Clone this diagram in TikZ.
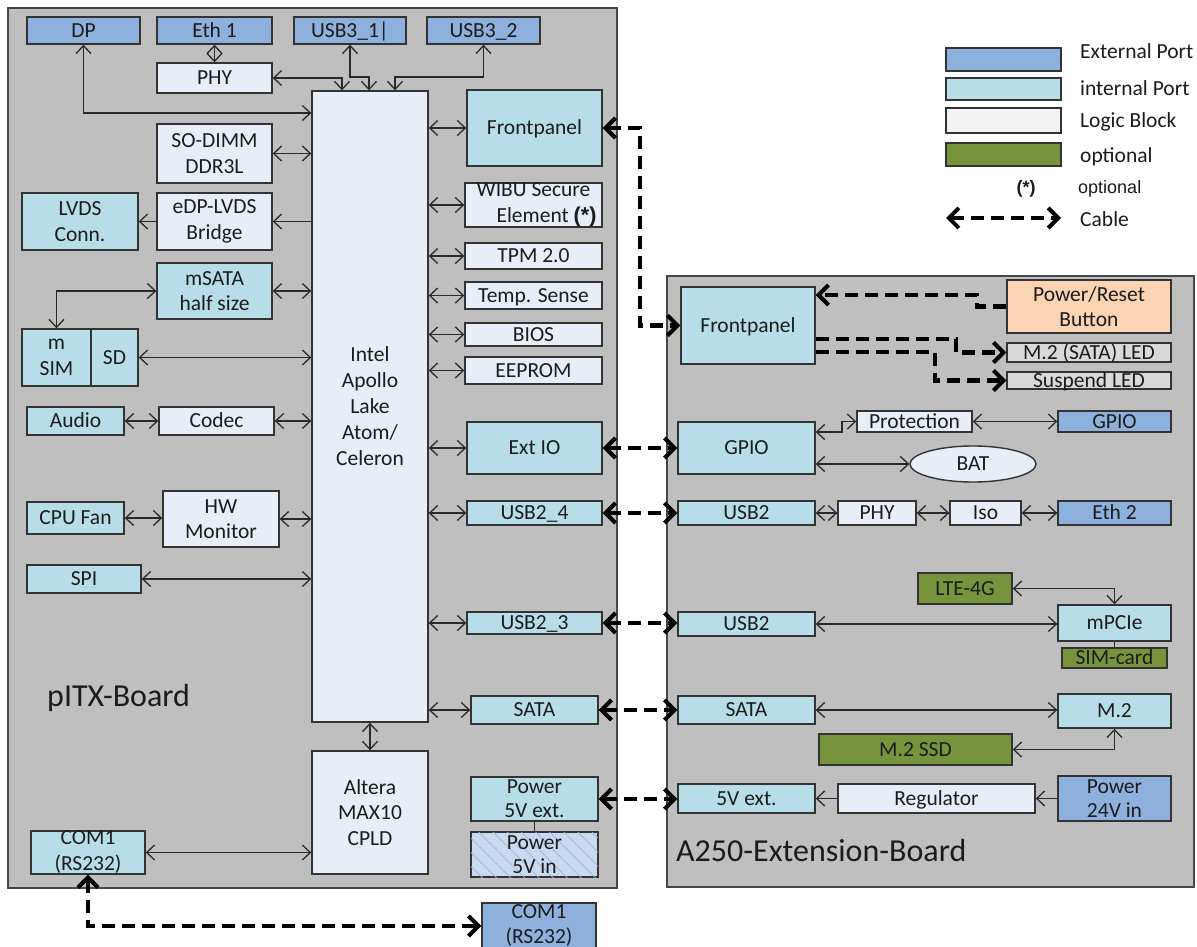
\documentclass[tikz,border=0pt]{standalone}
\usepackage{fontspec}
\setmainfont{Carlito}
\newfontfamily\arialfont{Liberation Sans}
\usetikzlibrary{arrows.meta,patterns.meta,shapes.geometric}

\definecolor{extc}{HTML}{8EB0DC}
\definecolor{intc}{HTML}{B7DEE8}
\definecolor{logc}{HTML}{E7EEF7}
\definecolor{leglogc}{HTML}{F2F2F2}
\definecolor{optc}{HTML}{77933C}
\definecolor{peachc}{HTML}{FBD4B4}
\definecolor{ledc}{HTML}{D9D9D9}
\definecolor{boardc}{HTML}{BFBFBF}
\definecolor{bordc}{HTML}{333333}
\definecolor{linec}{HTML}{2A2A2A}
\definecolor{txt}{HTML}{1C1C1C}
\definecolor{hatchbg}{HTML}{C9DAF0}
\definecolor{hatchc}{HTML}{9DB5D6}

\tikzset{
  tn/.tip={Straight Barb[length=8pt,width=15pt]},
  tc/.tip={Straight Barb[length=10pt,width=20pt,line width=4pt]},
}

\begin{document}
\begin{tikzpicture}[x=1pt,y=-1pt,
  every node/.style={font=\fontsize{21.5}{25.5}\selectfont, text=txt},
  sz/.style 2 args={minimum width=#1pt, minimum height=#2pt},
  blk/.style={draw=bordc, line width=1.4pt, inner sep=0pt, align=center},
  sl/.style={text height=14.5pt, text depth=1pt},
  ext/.style={blk, fill=extc},
  intp/.style={blk, fill=intc},
  logic/.style={blk, fill=logc},
  opt/.style={blk, fill=optc},
  board/.style={draw=bordc!90, line width=1.3pt, fill=boardc, inner sep=0pt},
  thinline/.style={draw=linec, line width=1.3pt},
  bi/.style={thinline, tn-tn},
  one/.style={thinline, -tn},
  cable/.style={draw=black, line width=4.5pt, dash pattern=on 13pt off 7pt, tc-tc},
  lbl/.style={anchor=west, inner sep=0pt},
]

% page and the two boards
\fill[white] (0,0) rectangle (1197,947);
\useasboundingbox (0,0) rectangle (1197,947);
\node[board, sz={609}{880}] (pitx) at (312.5,448) {};
\node[board, sz={527}{611}] (a250) at (930.5,581.5) {};

% ---------- pITX board ----------
\node[ext, sl, sz={113}{27}] (dp) at (83.5,30.5) {DP};
\node[ext, sl, sz={115}{27}] (eth1) at (214.5,30.5) {Eth 1};
\node[ext, sl, sz={112}{27}] (usb31) at (350,30.5) {USB3\_1|};
\node[ext, sl, sz={113}{27}] (usb32) at (483.5,30.5) {USB3\_2};
\node[logic, sl, sz={115}{30}] (phy) at (214.5,78) {PHY};
\node[logic, sz={116}{631}, font=\fontsize{21.5}{26}\selectfont] (cpu) at (370,406.5) {Intel\\Apollo\\Lake\\Atom/\\Celeron};
\node[intp, sl, sz={135}{76}] (fp) at (534.5,128) {Frontpanel};
\node[logic, sz={115}{59}] (sodimm) at (214.5,153.5) {SO-DIMM\\DDR3L};
\node[intp, sz={116}{57}] (lvds) at (80,221.5) {LVDS\\Conn.};
\node[logic, sz={115}{57}] (edp) at (214.5,221.5) {eDP-LVDS\\Bridge};
\node[logic, sz={137}{44}] (wibu) at (533.5,205) {WIBU Secure\\\hspace*{26pt}Element {\arialfont\bfseries (*)}};
\node[logic, sl, sz={137}{26}] (tpm) at (533.5,256) {TPM 2.0};
\node[logic, sl, sz={137}{27}] (temp) at (533.5,295.5) {Temp. Sense};
\node[intp, sz={115}{56}] (msata) at (214.5,291) {mSATA\\half size};
\node[intp, sz={69}{57}, font=\fontsize{21.5}{26}\selectfont] (msim) at (56.5,357.5) {m\\SIM};
\node[intp, sl, sz={47}{57}] (sd) at (114.5,357.5) {SD};
\node[logic, sl, sz={137}{23}] (bios) at (533.5,334.5) {BIOS};
\node[logic, sl, sz={137}{27}] (eeprom) at (533.5,370.5) {EEPROM};
\node[intp, sl, sz={97}{28}] (audio) at (75.5,421) {Audio};
\node[logic, sl, sz={115}{28}] (codec) at (216.5,421) {Codec};
\node[intp, sl, sz={135}{52}] (extio) at (534.5,448) {Ext IO};
\node[intp, sl, sz={97}{32}] (cpufan) at (75.5,518) {CPU Fan};
\node[logic, sz={116}{56}] (hwmon) at (221,519) {HW\\Monitor};
\node[intp, sl, sz={135}{24}] (usb24) at (534.5,513) {USB2\_4};
\node[intp, sl, sz={114}{28}] (spi) at (84,579) {SPI};
\node[intp, sl, sz={135}{22}] (usb23) at (534.5,623) {USB2\_3};
\node[intp, sl, sz={127}{28}] (sata) at (534.5,710) {SATA};
\node[logic, sz={116}{123}] (altera) at (370,812.5) {Altera\\MAX10\\CPLD};
\node[intp, sz={127}{44}, font=\fontsize{21.5}{24}\selectfont] (p5ext) at (534.5,799) {Power\\5V ext.};
\node[blk, fill=hatchbg, sz={127}{45},
      postaction={pattern={Lines[angle=-45,distance=10pt,line width=0.7pt]}, pattern color=hatchc}] (p5in) at (534.5,854.5) {};
\node[inner sep=0pt, align=center, font=\fontsize{21.5}{24}\selectfont] (p5intxt) at (p5in) {Power\\5V in};
\node[intp, sz={114}{43}, font=\fontsize{21.5}{26}\selectfont] (com1) at (88,852.5) {COM1\\(RS232)};
\node[ext, sz={114}{46}, font=\fontsize{21.5}{25}\selectfont] (com1ext) at (539,926) {COM1\\(RS232)};

\node[lbl, font=\fontsize{32}{38}\selectfont] (pitxlbl) at (47,698) {pITX-Board};

% ---------- A250 extension board ----------
\node[intp, sl, sz={134}{77}] (xfp) at (748,325.5) {Frontpanel};
\node[blk, fill=peachc, sz={164}{53}] (pwr) at (1089,306.5) {Power/Reset\\Button};
\node[blk, sl, fill=ledc, sz={164}{19}] (m2led) at (1089,352.5) {M.2 (SATA) LED};
\node[blk, sl, fill=ledc, sz={164}{17}] (susled) at (1089,380.5) {Suspend LED};
\node[intp, sl, sz={137}{52}] (xgpio) at (746.5,448) {GPIO};
\node[logic, sl, sz={115}{21}] (prot) at (914.5,421.5) {Protection};
\node[ext, sl, sz={113}{21}] (gpioext) at (1114.5,421.5) {GPIO};
\node[logic, sl, ellipse, sz={126}{36}] (bat) at (973,464) {BAT};
\node[intp, sl, sz={137}{24}] (xusb2a) at (746.5,513) {USB2};
\node[logic, sl, sz={78}{24}] (xphy) at (877,513) {PHY};
\node[logic, sl, sz={71}{24}] (iso) at (985.5,513) {Iso};
\node[ext, sl, sz={113}{24}] (eth2) at (1114.5,513) {Eth 2};
\node[opt, sl, sz={94}{31}] (lte) at (965,588.5) {LTE-4G};
\node[intp, sl, sz={113}{36}] (mpcie) at (1114.5,623) {mPCIe};
\node[opt, sl, sz={105}{20}] (simcard) at (1114.5,658) {SIM-card};
\node[intp, sl, sz={137}{24}] (xusb2b) at (746.5,624) {USB2};
\node[intp, sl, sz={137}{28}] (xsata) at (746.5,710) {SATA};
\node[intp, sl, sz={113}{34}] (m2) at (1114.5,711) {M.2};
\node[opt, sl, sz={193}{31}] (m2ssd) at (915.5,749.5) {M.2 SSD};
\node[intp, sl, sz={137}{29}] (x5v) at (746.5,798.5) {5V ext.};
\node[logic, sl, sz={197}{29}] (reg) at (936.5,798.5) {Regulator};
\node[ext, sz={113}{45}, font=\fontsize{21.5}{24}\selectfont] (p24) at (1114.5,798.5) {Power\\24V in};

\node[lbl, font=\fontsize{32}{38}\selectfont] (a250lbl) at (676,851) {A250-Extension-Board};

% ---------- legend ----------
\node[ext, sz={115}{23}] (lgext) at (1003.5,59.5) {};
\node[intp, sz={115}{22}] (lgint) at (1003.5,89) {};
\node[blk, fill=leglogc, sz={115}{25}] (lglog) at (1003.5,120.5) {};
\node[opt, sz={115}{23}] (lgopt) at (1003.5,154.5) {};
\node[lbl, sl] (lgextt) at (1080,52) {External Port};
\node[lbl, sl] (lgintt) at (1080,89) {internal Port};
\node[lbl, sl] (lglogt) at (1080,121) {Logic Block};
\node[lbl, sl] (lgoptt) at (1080,156) {optional};
\node[font=\arialfont\bfseries\fontsize{18}{20}\selectfont] (lgstar) at (1026,189) {(*)};
\node[lbl, font=\arialfont\fontsize{18}{20}\selectfont] (lgstart) at (1078,189) {optional};
\node[lbl, sl] (lgcablet) at (1080,220) {Cable};
\coordinate (lgA) at (946,218);
\coordinate (lgB) at (1061,218);
\draw[cable] (lgA) -- (lgB);

% ---------- connections on the pITX board ----------
\draw[bi] (dp.south) |- (cpu.west |- 0,113);
\draw[bi] (eth1.south) -- (phy.north);
\draw[bi] (phy.east) -| (cpu.north -| 342,0);
\draw[bi] (usb31.south) |- (369,77) -- (cpu.north -| 369,0);
\draw[bi] (usb32.south) |- (395,77) -- (cpu.north -| 395,0);
\draw[bi] (sodimm.east) -- (sodimm.east -| cpu.west);
\draw[one] (cpu.west |- edp.east) -- (edp.east);
\draw[one] (edp.west) -- (lvds.east);
\draw[bi] (msata.east) -- (msata.east -| cpu.west);
\draw[bi] (msata.west) -| (msim.north);
\draw[bi] (sd.east) -- (sd.east -| cpu.west);
\draw[bi] (audio.east) -- (codec.west);
\draw[bi] (codec.east) -- (codec.east -| cpu.west);
\draw[bi] (cpufan.east) -- (cpufan.east -| hwmon.west);
\draw[bi] (hwmon.east) -- (hwmon.east -| cpu.west);
\draw[bi] (spi.east) -- (spi.east -| cpu.west);
\draw[bi] (com1.east) -- (com1.east -| altera.west);
\draw[bi] (cpu.south) -- (altera.north);
\foreach \n in {fp,wibu,tpm,temp,bios,eeprom,extio,usb24,usb23,sata}
  \draw[bi] (cpu.east |- \n.west) -- (\n.west);
\draw[thinline] (p5ext.south) -- (p5in.north);

% ---------- connections on the extension board ----------
\draw[bi] (xgpio.east |- 0,432) -- (842,432) |- (prot.west);
\draw[bi] (prot.east) -- (gpioext.west);
\draw[bi] (xgpio.east |- bat.west) -- (bat.west);
\draw[bi] (xusb2a.east) -- (xphy.west);
\draw[bi] (xphy.east) -- (iso.west);
\draw[bi] (iso.east) -- (eth2.west);
\draw[bi] (lte.east) -| (mpcie.north);
\draw[bi] (xusb2b.east) -- (xusb2b.east -| mpcie.west);
\draw[thinline] (mpcie.south) -- (simcard.north);
\draw[bi] (xsata.east) -- (xsata.east -| m2.west);
\draw[bi] (m2.south) |- (m2ssd.east);
\draw[one] (p24.west) -- (reg.east);
\draw[one] (reg.west) -- (x5v.east);

% ---------- cables ----------
\draw[cable] (fp.east) -- (640,128) |- (xfp.west);
\draw[cable, -tc] (pwr.west) -| (977,295) -- (xfp.east |- 0,295);
\draw[cable, -tc] (xfp.east |- 0,339) -- (956,339) |- (m2led.west);
\draw[cable, -tc] (xfp.east |- 0,352) -- (935,352) |- (susled.west);
\draw[cable] (extio.east) -- (xgpio.west);
\draw[cable] (usb24.east) -- (xusb2a.west);
\draw[cable] (usb23.east) -- (usb23.east -| xusb2b.west);
\draw[cable] (sata.east) -- (sata.east -| xsata.west);
\draw[cable] (p5ext.east) -- (p5ext.east -| x5v.west);
\draw[cable] (com1.south) |- (com1ext.west);
\end{tikzpicture}
\end{document}
